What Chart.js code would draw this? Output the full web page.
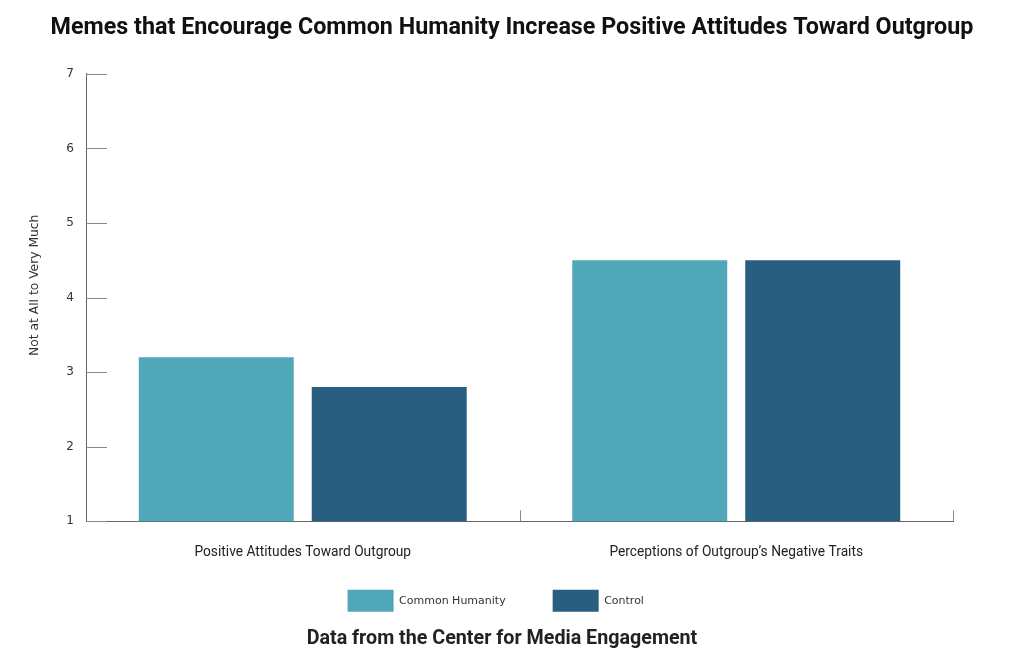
<!DOCTYPE html>
<html>
<head>
<meta charset="utf-8">
<script src="https://cdn.jsdelivr.net/npm/chart.js@4"></script>
<style>
  html, body { margin: 0; padding: 0; background: #fff; }
  #wrap { width: 1024px; height: 658px; }
</style>
</head>
<body>
<div id="wrap"><canvas id="memeChart" width="1024" height="658"></canvas></div>
<script>
// data
const categories = ['Positive Attitudes Toward Outgroup', 'Perceptions of Outgroup\u2019s Negative Traits'];
const commonHumanity = [3.2, 4.5];
const control = [2.8, 4.5];
const yTicks = [1, 2, 3, 4, 5, 6, 7];

// small tick marks drawn inside the plot, like the original
const tickMarks = {
    id: 'tickMarks',
    afterDraw(chart) {
        const ctx = chart.ctx;
        const area = chart.chartArea;
        const x = chart.scales.x;
        const y = chart.scales.y;
        ctx.save();
        ctx.strokeStyle = '#888';
        ctx.lineWidth = 1;
        ctx.beginPath();
        yTicks.forEach(function (v) {
            const py = Math.round(y.getPixelForValue(v)) + 0.5;
            ctx.moveTo(area.left, py);
            ctx.lineTo(area.left + 21, py);
        });
        for (let i = 1; i <= categories.length; i++) {
            const px = Math.round(x.getPixelForValue(i - 0.5)) + 0.5;
            ctx.moveTo(px, area.bottom);
            ctx.lineTo(px, area.bottom - 11);
        }
        ctx.stroke();
        ctx.restore();
    }
};

// legend items sit a little apart, trailing spaces widen each entry
const legendGap = ['\u2003\u2003\u2003', '\u2003\u2003   '];

new Chart(document.getElementById('memeChart'), {
    type: 'bar',
    data: {
        labels: categories,
        datasets: [{
            label: 'Common Humanity',
            data: commonHumanity,
            backgroundColor: '#4fa7b8',
            borderWidth: 0
        }, {
            label: 'Control',
            data: control,
            backgroundColor: '#285e80',
            borderWidth: 0
        }]
    },
    plugins: [tickMarks],
    options: {
        responsive: false,
        animation: false,
        devicePixelRatio: 1,
        layout: {
            padding: 0
        },
        datasets: {
            bar: {
                categoryPercentage: 0.798,
                barPercentage: 0.896
            }
        },
        scales: {
            x: {
                grid: {display: false},
                border: {display: true, color: '#666'},
                ticks: {
                    padding: 15,
                    color: '#222',
                    maxRotation: 0,
                    font: {family: 'Roboto', size: 13.75}
                }
            },
            y: {
                min: 1,
                max: 7,
                afterBuildTicks: function (scale) {
                    scale.ticks = yTicks.map(function (v) { return {value: v}; });
                },
                afterFit: function (scale) {
                    scale.width = 86;
                },
                grid: {display: false},
                border: {display: true, color: '#666'},
                ticks: {
                    padding: 4,
                    color: '#333',
                    font: {family: 'DejaVu Sans', size: 12}
                },
                title: {
                    display: true,
                    text: '\u2003\u2003Not at All to Very Much',
                    color: '#333',
                    padding: {top: 27, bottom: 0},
                    font: {family: 'DejaVu Sans', size: 12.3}
                }
            },
            // empty right-hand axis, only keeps the margin right of the plot
            spacer: {
                position: 'right',
                display: true,
                grid: {display: false},
                border: {display: false},
                ticks: {display: false},
                afterFit: function (scale) {
                    scale.width = 71;
                }
            }
        },
        plugins: {
            title: {
                display: true,
                text: 'Memes that Encourage Common Humanity Increase Positive Attitudes Toward Outgroup',
                color: '#111',
                padding: {top: 14, bottom: 31.9},
                font: {family: 'Roboto', size: 23.3, weight: 'bold'}
            },
            subtitle: {
                display: true,
                position: 'bottom',
                text: 'Data from the Center for Media Engagement\u2003',
                color: '#222',
                padding: {top: 5, bottom: 7.5},
                font: {family: 'Roboto', size: 19.7, weight: 'bold'}
            },
            legend: {
                position: 'bottom',
                labels: {
                    boxWidth: 46,
                    boxHeight: 22,
                    padding: 14,
                    color: '#333',
                    font: {family: 'DejaVu Sans', size: 11},
                    generateLabels: function (chart) {
                        const items = Chart.defaults.plugins.legend.labels.generateLabels(chart);
                        items.forEach(function (item, i) {
                            item.text = item.text + legendGap[i];
                        });
                        return items;
                    }
                }
            },
            tooltip: {enabled: false}
        }
    }
});
</script>
</body>
</html>
